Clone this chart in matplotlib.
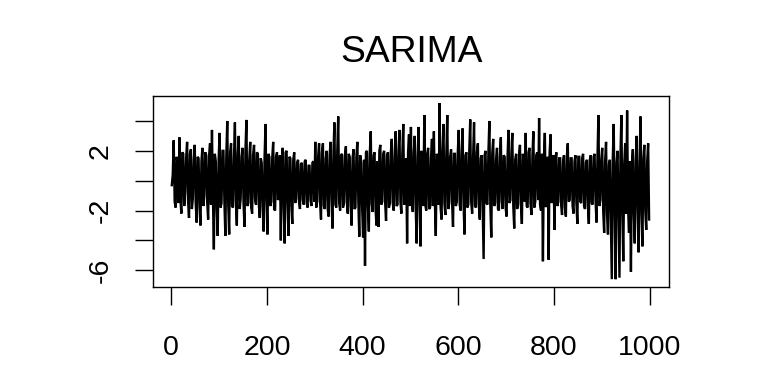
import numpy as np
import matplotlib
matplotlib.use("Agg")
import matplotlib.pyplot as plt

plt.rcParams['font.family'] = ['Liberation Sans', 'DejaVu Sans']

title = "SARIMA"
step = 2
values = [
    # t 1..99
    -0.3, 0.4, 2.7, -1.4, -1.8, 1.6, 1.2, -1.5, 2.9, -1.2, -2.2, 1.9, 1.8, -1.7, -0.8, 1.5, 2.6, -1.3, -2.5, 1.8,
    2.1, -1.9, -1.2, 1.4, 2.4, -1.5, -2.8, 1.6, 1.5, -1.8, -3.0, 1.3, 2.2, -1.7, -1.0, 1.9, 1.7, -1.4, -2.6, 1.7,
    2.5, -1.6, 3.4, -1.1, -4.6, 1.8, 1.3, -1.9, -3.7, 1.5,
    # t 101..199
    3.2, -1.8, -1.5, 2.0, 2.0, -1.4, -3.7, 1.7, 4.0, -1.6, -3.6, 1.9, 2.5, -1.7, -1.8, 1.5, 3.9, -1.3, -3.0, 1.8,
    3.0, -1.9, -1.2, 1.6, 2.2, -1.5, -3.1, 2.0, 4.07, -1.7, -1.5, 1.4, 2.6, -1.8, -2.2, 1.7, 2.4, -1.2, -1.6, 1.9,
    1.8, -1.6, -2.5, 1.5, 1.2, -1.8, -3.4, 1.6, 3.8, -1.4,
    # t 201..299
    -3.6, 1.8, 1.6, -1.7, -1.4, 1.5, 2.6, -1.9, -2.0, 1.6, 1.9, -1.3, -1.0, 1.7, -4.0, 1.4, 2.2, -1.8, -4.2, 1.9,
    2.0, -1.5, -3.7, 1.6, 1.5, -1.7, -2.9, 1.4, 1.9, -1.5, -1.2, 1.2, 1.4, -1.4, -1.9, 1.1, 1.2, -1.3, -1.6, 1.3,
    1.4, -1.5, -1.8, 1.0, 1.0, -1.3, -1.7, 1.2, 1.3, -1.4,
    # t 301..399
    2.6, -1.8, -1.4, 1.6, 2.5, -1.4, -2.6, 1.9, 2.5, -1.7, -1.9, 1.5, 2.0, -1.9, -2.4, 1.7, 2.6, -1.3, -3.2, 1.8,
    3.9, -1.6, -1.8, 2.0, 4.3, -1.5, -2.0, 1.7, 1.8, -1.8, -1.5, 1.6, 2.3, -1.4, -2.2, 1.8, 1.6, -1.7, -3.0, 1.5,
    2.1, -1.9, -1.8, 1.6, 2.6, -1.3, -3.75, 1.7, 1.2, -1.8,
    # t 401..499
    -3.8, 1.4, -5.7, 1.9, 2.0, -1.6, -3.4, 1.8, 3.3, -1.5, -2.1, 1.7, 1.9, -1.9, -3.0, 1.3, -3.1, 2.0, 2.4, -1.6,
    -1.4, 1.8, 2.0, -1.4, -2.7, 1.7, 1.9, -1.8, -1.5, 1.9, 2.8, -1.5, -2.0, 1.6, 3.3, -1.7, -1.6, 2.0, 3.4, -1.4,
    -2.2, 1.8, 3.8, -1.6, -1.0, 1.5, -4.2, 1.9, 3.1, -1.7,
    # t 501..599
    3.6, -1.5, -2.1, 1.9, 3.0, -1.8, -4.2, 1.6, 3.6, -1.4, -4.4, 2.0, 1.5, -1.7, 4.4, -1.6, -2.0, 1.8, 2.2, -1.9,
    -1.8, 1.5, 2.8, -1.7, 3.3, -1.3, -3.7, 1.8, 1.6, -1.6, 5.2, -1.8, -2.6, 2.0, 3.8, -1.5, -2.3, 1.7, 4.4, -1.9,
    -1.5, 1.6, 2.1, -1.4, -3.1, 1.8, 1.8, -1.7, -1.4, 1.9,
    # t 601..699
    3.4, -1.6, -2.0, 1.8, 3.5, -1.5, -3.6, 1.7, 1.9, -1.8, -1.6, 2.0, 4.1, -1.4, -2.2, 1.6, 3.9, -1.7, -1.8, 1.9,
    2.5, -1.6, -2.6, 1.5, 1.7, -1.8, -5.25, 1.7, 2.0, -1.5, -1.6, 1.9, 4.0, -1.6, -3.8, 1.8, 2.8, -1.7, -1.5, 1.4,
    2.2, -1.9, -2.0, 1.6, 2.9, -1.4, -1.9, 1.7, 1.6, -1.8,
    # t 701..799
    -2.4, 1.6, 3.4, -1.5, -1.3, 1.8, 3.2, -1.7, -3.2, 1.4, 1.8, -1.9, -1.6, 1.7, 2.4, -1.6, -2.9, 1.8, 1.5, -1.4,
    3.2, -1.7, -1.8, 1.9, 2.2, -1.5, -2.3, 1.6, 3.3, -1.8, -1.4, 1.7, 1.9, -1.3, 4.2, -1.6, -2.0, 1.8, -5.4, 1.5,
    3.2, -1.7, -1.7, 1.6, -5.3, 1.9, 3.1, -1.5, -1.2, 1.7,
    # t 801..899
    -3.3, 1.4, 1.9, -1.7, -1.4, 1.5, 1.5, -1.6, -2.3, 1.3, 1.7, -1.8, -2.4, 1.6, 2.5, -1.4, -1.3, 1.5, 1.5, -1.7,
    -2.2, 1.3, 1.7, -1.5, -2.9, 1.6, 1.6, -1.4, -1.5, 1.5, 1.8, -1.7, -1.9, 1.2, 1.4, -1.6, -2.9, 1.4, 1.7, -1.5,
    -1.6, 1.6, 1.8, -1.3, -2.8, 1.5, 4.4, -1.7, -1.3, 1.4,
    # t 901..999
    2.2, -2.0, -3.5, 1.3, 2.6, -2.2, -3.6, 1.1, 1.4, -2.4, -6.6, 1.4, 3.8, -2.1, -6.6, 1.2, 2.0, -2.3, -6.5, 1.5,
    4.4, -2.0, -5.4, 1.1, 2.5, -2.2, 4.7, -1.8, -3.5, 1.3, -6.1, 1.0, 2.1, -2.1, -4.2, 1.4, 3.0, -1.9, -4.8, 1.2,
    4.3, -2.2, -4.4, 1.5, 2.4, -2.0, -3.3, 1.3, 2.5, -2.6,
]
time = np.arange(len(values)) * step + 1

x_ticks = [0, 200, 400, 600, 800, 1000]
y_ticks = [-6, -4, -2, 0, 2, 4]
y_tick_labels = ["-6", "", "-2", "", "2", ""]

fig = plt.figure(figsize=(7.68, 3.84), dpi=100)
ax = fig.add_axes([0.1988, 0.2534, 0.6719, 0.4966])
ax.plot(time, values, color="black", linewidth=1.7, solid_joinstyle="miter")

n = 1000
ax.set_xlim(1 - 0.04 * (n - 1), n + 0.04 * (n - 1))
ymin, ymax = -6.63, 5.2
pad = 0.04 * (ymax - ymin)
ax.set_ylim(ymin - pad, ymax + pad)

ax.set_xticks(x_ticks)
ax.set_xticklabels([str(t) for t in x_ticks])
ax.set_yticks(y_ticks)
ax.set_yticklabels(y_tick_labels, rotation=90, va="center")
ax.tick_params(axis="both", direction="out", length=13, width=1.0, labelsize=20.5)
ax.tick_params(axis="x", pad=22)
ax.tick_params(axis="y", pad=15)
for s in ax.spines.values():
    s.set_linewidth(1.0)

fig.text(0.5353, 0.862, title, ha="center", va="center", fontsize=26.8)

fig.savefig("out.png", dpi=100)
